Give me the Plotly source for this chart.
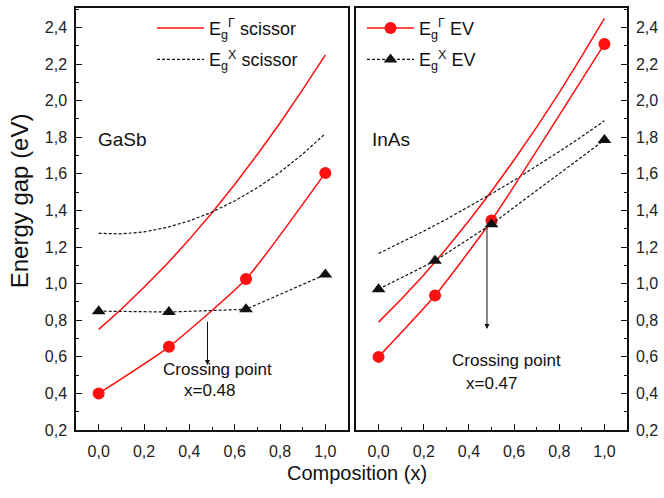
import plotly.graph_objects as go

# ---------------- data ----------------
comp_ev_gasb = [0.0, 0.31, 0.65, 1.0]
egG_ev_gasb = [0.40, 0.655, 1.025, 1.605]
egX_ev_gasb = [0.85, 0.845, 0.86, 1.05]

comp_ev_inas = [0.0, 0.25, 0.5, 1.0]
egG_ev_inas = [0.60, 0.935, 1.345, 2.31]
egX_ev_inas = [0.97, 1.125, 1.325, 1.785]

comp_sc = [0.0, 0.1, 0.2, 0.3, 0.4, 0.5, 0.6, 0.7, 0.8, 0.9, 1.0]
egG_sc_gasb = [0.75, 0.86, 0.98, 1.106, 1.242, 1.388, 1.542, 1.706, 1.878, 2.06, 2.25]
egX_sc_gasb = [1.275, 1.272, 1.283, 1.307, 1.343, 1.391, 1.452, 1.524, 1.609, 1.708, 1.82]
egG_sc_inas = [0.79, 0.915, 1.048, 1.191, 1.344, 1.505, 1.676, 1.855, 2.044, 2.243, 2.45]
egX_sc_inas = [1.165, 1.225, 1.287, 1.352, 1.420, 1.491, 1.565, 1.642, 1.722, 1.804, 1.89]

cross_gasb = 0.48
cross_inas = 0.47

RED = "#ff1010"
BLK = "#111111"
FONT = "Liberation Sans, Arial, sans-serif"

W, H = 664, 498
def px(v):  # pixel -> paper x
    return v / W
def py(v):  # pixel -> paper y (from top)
    return 1 - v / H

fig = go.Figure()

# left panel: GaSb
fig.add_trace(go.Scatter(x=comp_sc, y=egG_sc_gasb, mode="lines", line=dict(color=RED, width=1.5),
                         name="E<sub>g</sub><sup>Γ</sup> scissor", legend="legend", legendgroup="a",
                         xaxis="x", yaxis="y"))
fig.add_trace(go.Scatter(x=comp_sc, y=egX_sc_gasb, mode="lines", line=dict(color=BLK, width=1.2, dash="3px,2px"),
                         name="E<sub>g</sub><sup>X</sup> scissor", legend="legend", legendgroup="b",
                         xaxis="x", yaxis="y"))
fig.add_trace(go.Scatter(x=comp_ev_gasb, y=egG_ev_gasb, mode="lines+markers",
                         line=dict(color=RED, width=1.5, shape="spline", smoothing=0.5),
                         marker=dict(symbol="circle", size=12, color=RED), showlegend=False, xaxis="x", yaxis="y"))
fig.add_trace(go.Scatter(x=comp_ev_gasb, y=egX_ev_gasb, mode="lines+markers",
                         line=dict(color=BLK, width=1.2, dash="3px,2px"),
                         marker=dict(symbol="triangle-up", size=12, color=BLK), showlegend=False, xaxis="x", yaxis="y"))

# right panel: InAs
fig.add_trace(go.Scatter(x=comp_sc, y=egG_sc_inas, mode="lines", line=dict(color=RED, width=1.5),
                         showlegend=False, xaxis="x2", yaxis="y2"))
fig.add_trace(go.Scatter(x=comp_sc, y=egX_sc_inas, mode="lines", line=dict(color=BLK, width=1.2, dash="3px,2px"),
                         showlegend=False, xaxis="x2", yaxis="y2"))
fig.add_trace(go.Scatter(x=comp_ev_inas, y=egG_ev_inas, mode="lines+markers",
                         line=dict(color=RED, width=1.5, shape="spline", smoothing=0.5),
                         marker=dict(symbol="circle", size=12, color=RED),
                         name="E<sub>g</sub><sup>Γ</sup> EV", legend="legend2", legendgroup="c",
                         xaxis="x2", yaxis="y2"))
fig.add_trace(go.Scatter(x=comp_ev_inas, y=egX_ev_inas, mode="lines+markers",
                         line=dict(color=BLK, width=1.2, dash="3px,2px"),
                         marker=dict(symbol="triangle-up", size=12, color=BLK),
                         name="E<sub>g</sub><sup>X</sup> EV", legend="legend2", legendgroup="d",
                         xaxis="x2", yaxis="y2"))

axis_common = dict(showline=True, mirror=True, linecolor=BLK, linewidth=1.5, showgrid=False, zeroline=False,
                   ticks="inside", ticklen=6, tickwidth=1.2, tickcolor=BLK,
                   tickfont=dict(family=FONT, size=16, color="#222"), tickformat=".1f")
xa = dict(axis_common, range=[-0.1, 1.1], tick0=0, dtick=0.2, ticklabelstandoff=6,
          minor=dict(ticks="inside", ticklen=3, tickwidth=1.2, tickcolor=BLK, dtick=0.1, tick0=0))
ya = dict(axis_common, range=[0.2, 2.507], tick0=0.2, dtick=0.2, ticklabelstandoff=4,
          minor=dict(ticks="inside", ticklen=3, tickwidth=1.2, tickcolor=BLK, dtick=0.1, tick0=0.2))

ydom = [py(438), py(8)]
leg_common = dict(xanchor="left", yanchor="top", bgcolor="rgba(0,0,0,0)",
                  font=dict(family=FONT, size=18, color="#111"), tracegroupgap=5, itemwidth=47)
fig.update_layout(
    width=W, height=H, margin=dict(l=0, r=0, t=0, b=0),
    paper_bgcolor="white", plot_bgcolor="white", separators=",.",
    xaxis=dict(xa, domain=[px(76), px(348)], anchor="y"),
    yaxis=dict(ya, domain=ydom, anchor="x"),
    xaxis2=dict(xa, domain=[px(356), px(627)], anchor="y2"),
    yaxis2=dict(ya, domain=ydom, anchor="x2", side="right"),
    legend=dict(leg_common, x=px(152), y=py(10)),
    legend2=dict(leg_common, x=px(362), y=py(10)),
    showlegend=True,
)

ann_font = dict(family=FONT, size=17, color="#111")
anns = [
    dict(text="GaSb", x=-0.01, y=1.79, xref="x", yref="y", xanchor="left", yanchor="middle", showarrow=False,
         font=dict(family=FONT, size=19, color="#111")),
    dict(text="InAs", x=-0.04, y=1.79, xref="x2", yref="y2", xanchor="left", yanchor="middle", showarrow=False,
         font=dict(family=FONT, size=19, color="#111")),
    dict(text="", x=cross_gasb, y=0.555, xref="x", yref="y", showarrow=True, ax=0, ay=-45,
         arrowhead=2, arrowsize=1, arrowwidth=1, arrowcolor=BLK, standoff=0),
    dict(text="", x=cross_inas + 0.01, y=0.753, xref="x2", yref="y2", showarrow=True, ax=0, ay=-103,
         arrowhead=2, arrowsize=1, arrowwidth=1, arrowcolor=BLK, standoff=0),
    dict(text="Crossing point", x=0.526, y=0.533, xref="x", yref="y", showarrow=False, font=ann_font),
    dict(text="x=0.48", x=0.49, y=0.415, xref="x", yref="y", showarrow=False, font=ann_font),
    dict(text="Crossing point", x=0.568, y=0.58, xref="x2", yref="y2", showarrow=False, font=ann_font),
    dict(text="x=0.47", x=0.50, y=0.457, xref="x2", yref="y2", showarrow=False, font=ann_font),
    dict(text="Energy gap (eV)", x=px(19), y=py(205), xref="paper", yref="paper", textangle=-90,
         xanchor="center", yanchor="middle",
         showarrow=False, font=dict(family=FONT, size=24, color="#111")),
    dict(text="Composition (x)", x=px(357), y=py(482), xref="paper", yref="paper",
         xanchor="center", yanchor="middle",
         showarrow=False, font=dict(family=FONT, size=20, color="#111")),
]
fig.update_layout(annotations=anns)

fig.write_html("out.html")
